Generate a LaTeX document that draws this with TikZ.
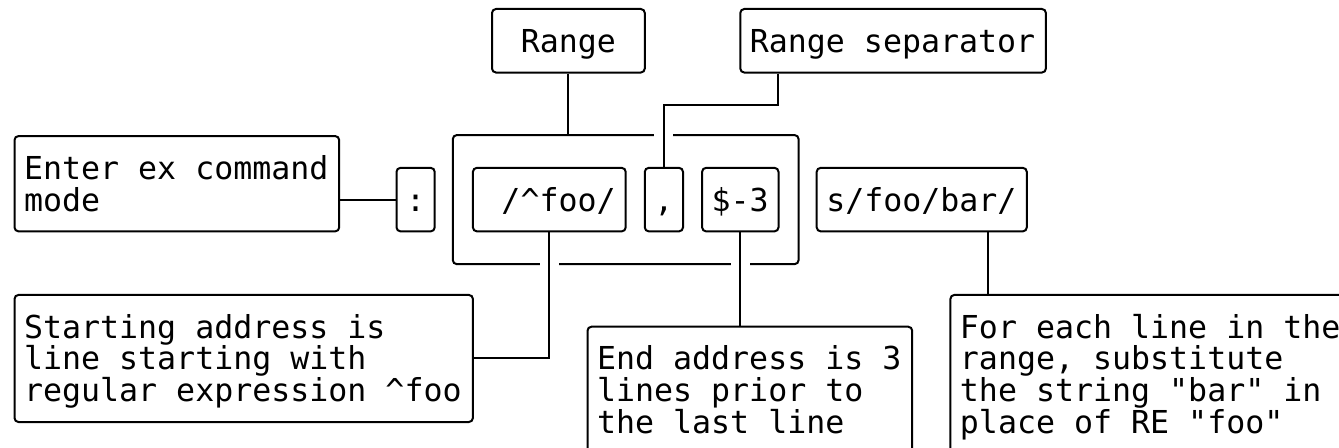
\documentclass[tikz,border=0pt]{standalone}
\usepackage{fontspec}
\setmonofont{DejaVu Sans Mono}
\usepackage{tikz}
\usetikzlibrary{calc,fit}
\definecolor{asciiink}{RGB}{0,0,0}
\newcommand\asciifont{\ttfamily\fontsize{15.8}{15.885}\selectfont\lineskiplimit=-20pt\relax}
\tikzset{
  box/.style={draw=asciiink,line width=1pt,rounded corners=2pt,anchor=north west,
    inner xsep=4.775pt,inner ysep=0pt,text height=21.635pt,align=flush left,
    font=\asciifont,execute at begin node={\spaceskip=0.60205em\xspaceskip=0.60205em\relax}},
  group/.style={draw=asciiink,line width=1pt,rounded corners=2pt,
    inner xsep=9.55pt,inner ysep=15.885pt},
  link/.style={draw=asciiink,line width=1pt},
  hop/.style={fill=white}
}

\begin{document}
\begin{tikzpicture}[x=9.55pt,y=15.885pt]
  \useasboundingbox (-0.7068,0.2518) rectangle (69.398,-13.849);
  \clip (-0.7068,0.2518) rectangle (69.398,-13.849);
  \node[box,align=center,text width=66.85pt,text depth=10.135pt] (range) at (25,0) {Range};
  \node[box,text width=143.25pt,text depth=10.135pt] (sep) at (38,0) {Range separator};
  \node[box,text width=152.8pt,text depth=26.02pt] (enter) at (0,-4) {Enter ex command\\mode};
  \node[box,text width=9.55pt,text depth=10.135pt] (colon) at (20,-5) {:};
  \node[box,text width=66.85pt,text depth=10.135pt] (foo) at (24,-5) {\ /\textasciicircum foo/};
  \node[box,text width=9.55pt,text depth=10.135pt] (comma) at (33,-5) {,};
  \node[box,text width=28.65pt,text depth=10.135pt] (dollar) at (36,-5) {\$-3};
  \node[box,text width=95.5pt,text depth=10.135pt] (subst) at (42,-5) {s/foo/bar/};
  \node[box,text width=219.65pt,text depth=41.905pt] (start) at (0,-9)
    {Starting address is\\line starting with\\regular expression \textasciicircum foo};
  \node[box,text width=152.8pt,text depth=41.905pt] (endaddr) at (30,-10)
    {End address is 3\\lines prior to\\the last line};
  \node[box,text width=191pt,text depth=57.79pt] (each) at (49,-9)
    {For each line in the\\range, substitute\\the string "bar" in\\place of RE "foo"};
  \node[group,fit=(foo)(dollar)] (grp) {};
  \coordinate (sepcross) at (comma.north |- grp.north);
  \coordinate (foocross) at (foo.south |- grp.south);
  \coordinate (endcross) at (dollar.south |- grp.south);
  \coordinate (septap) at ($(sep.south west)+(2,0)$);
  \coordinate (substtap) at ($(subst.south west)+(9,0)$);
  \foreach \cross in {sepcross,foocross,endcross}
    \fill[hop] ($(\cross)+(-0.5,-0.15)$) rectangle ($(\cross)+(0.5,0.15)$);
  \draw[link] (colon.west) -- (colon.west -| enter.east);
  \draw[link] (range.south) -- (range.south |- grp.north);
  \draw[link] (septap) -- ++(0,-1) -| (comma.north);
  \draw[link] (foo.south) |- (start.east);
  \draw[link] (dollar.south) -- (dollar.south |- endaddr.north);
  \draw[link] (substtap) -- (substtap |- each.north);
\end{tikzpicture}
\end{document}
